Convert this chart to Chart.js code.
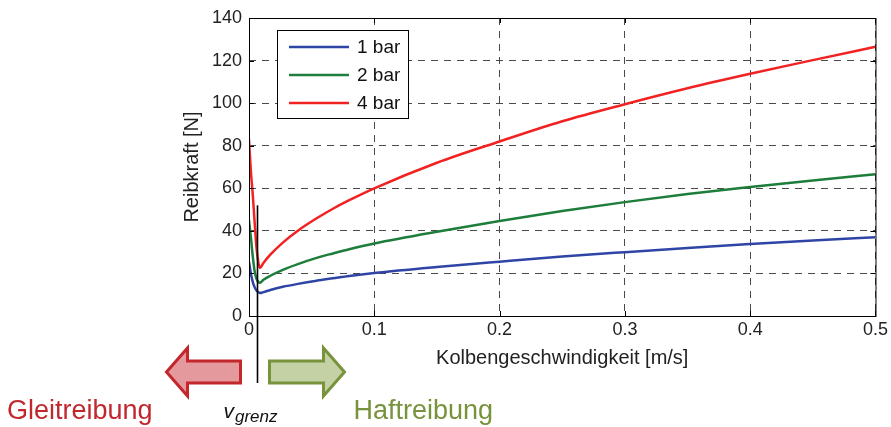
<!DOCTYPE html>
<html>
<head>
<meta charset="utf-8">
<script src="https://cdn.jsdelivr.net/npm/chart.js@4"></script>
<style>
  html, body { margin: 0; padding: 0; background: #fff; }
  #wrap { width: 891px; height: 427px; }
</style>
</head>
<body>
<div id="wrap"><canvas id="chart"></canvas></div>
<script>
// Kolbengeschwindigkeit [m/s]
const speeds = [0, 0.0015, 0.003, 0.0045, 0.006, 0.0075, 0.0087, 0.0115, 0.017, 0.027, 0.039, 0.054, 0.067, 0.08, 0.1, 0.15, 0.2, 0.25, 0.3, 0.35, 0.4, 0.45, 0.5];
// Reibkraft [N]
const force1bar = [25.5, 20, 16, 13.5, 12, 11.2, 10.8, 11.2, 12.2, 13.7, 15.1, 16.6, 17.7, 18.8, 20.2, 23, 25.5, 27.9, 30, 32, 33.8, 35.5, 37];
const force2bar = [45, 37, 28, 21, 17.5, 16, 15.6, 17, 18.9, 21.7, 24.4, 27.3, 29.4, 31.4, 34.1, 39.6, 44.6, 49.3, 53.5, 57.3, 60.6, 63.7, 66.6];
const force4bar = [83, 68, 57, 44, 32, 25, 22.6, 24.9, 28.8, 34.5, 40.1, 45.9, 50.4, 54.4, 60, 72, 82, 91.5, 99.5, 107, 113.8, 120.2, 126.5];
const seriesLabels = ['1 bar', '2 bar', '4 bar'];
const xTicks = [0, 0.1, 0.2, 0.3, 0.4, 0.5];
const yTicks = [0, 20, 40, 60, 80, 100, 120, 140];
const vGrenz = 0.0064;
const vGrenzTop = 52;

const colors = ['#2f45a6', '#1d7d3b', '#f22222'];
const FONT = '"Liberation Sans", Arial, Helvetica, sans-serif';

const toPoints = ys => speeds.map((x, i) => ({ x: x, y: ys[i] }));

const annotations = {
    id: 'annotations',
    afterDraw(chart) {
        const { ctx, chartArea: a, scales: { x, y } } = chart;
        ctx.save();

        // frame + inward tick marks (matlab style)
        ctx.strokeStyle = '#000';
        ctx.lineWidth = 1;
        ctx.strokeRect(a.left + 0.5, a.top + 0.5, a.right - a.left, a.bottom - a.top);
        ctx.beginPath();
        xTicks.forEach(v => {
            const px = Math.round(x.getPixelForValue(v)) + 0.5;
            ctx.moveTo(px, a.bottom); ctx.lineTo(px, a.bottom - 5);
            ctx.moveTo(px, a.top); ctx.lineTo(px, a.top + 5);
        });
        yTicks.forEach(v => {
            const py = Math.round(y.getPixelForValue(v)) + 0.5;
            ctx.moveTo(a.left, py); ctx.lineTo(a.left + 5, py);
            ctx.moveTo(a.right, py); ctx.lineTo(a.right - 5, py);
        });
        ctx.stroke();

        // legend box
        const lx = a.left + 28, ly = a.top + 12;
        ctx.fillStyle = '#fff';
        ctx.fillRect(lx, ly, 131, 88);
        ctx.strokeRect(lx + 0.5, ly + 0.5, 131, 88);
        ctx.font = '19px ' + FONT;
        ctx.textBaseline = 'middle';
        ctx.textAlign = 'left';
        chart.data.datasets.forEach((ds, i) => {
            const yy = ly + 17 + i * 28;
            ctx.strokeStyle = ds.borderColor;
            ctx.lineWidth = 2.5;
            ctx.beginPath();
            ctx.moveTo(lx + 12, yy); ctx.lineTo(lx + 72, yy);
            ctx.stroke();
            ctx.fillStyle = '#111';
            ctx.fillText(ds.label, lx + 80, yy + 1);
        });

        // v_grenz line
        const gx = Math.round(x.getPixelForValue(vGrenz)) + 0.5;
        ctx.strokeStyle = '#000';
        ctx.lineWidth = 1.6;
        ctx.beginPath();
        ctx.moveTo(gx, y.getPixelForValue(vGrenzTop));
        ctx.lineTo(gx, a.bottom + 67);
        ctx.stroke();

        // arrows
        const cy = a.bottom + 56;
        function arrow(tip, base, end, fill, stroke) {
            ctx.beginPath();
            ctx.moveTo(tip, cy);
            ctx.lineTo(base, cy - 24);
            ctx.lineTo(base, cy - 11);
            ctx.lineTo(end, cy - 11);
            ctx.lineTo(end, cy + 11);
            ctx.lineTo(base, cy + 11);
            ctx.lineTo(base, cy + 24);
            ctx.closePath();
            ctx.fillStyle = fill;
            ctx.fill();
            ctx.lineWidth = 3;
            ctx.lineJoin = 'miter';
            ctx.strokeStyle = stroke;
            ctx.stroke();
        }
        arrow(gx - 91, gx - 70, gx - 17, '#e4999d', '#c1272d');
        arrow(gx + 87, gx + 66, gx + 12, '#c3d1a4', '#77933c');

        // texts below
        ctx.textBaseline = 'middle';
        ctx.font = '27px ' + FONT;
        ctx.fillStyle = '#c1272d';
        ctx.textAlign = 'left';
        ctx.fillText('Gleitreibung', 7, a.bottom + 96);
        ctx.fillStyle = '#77933c';
        ctx.fillText('Haftreibung', gx + 96, a.bottom + 96);

        ctx.fillStyle = '#111';
        ctx.textBaseline = 'alphabetic';
        ctx.font = 'italic 21px ' + FONT;
        ctx.fillText('v', gx - 34, a.bottom + 102);
        const vw = ctx.measureText('v').width;
        ctx.font = 'italic 17px ' + FONT;
        ctx.fillText('grenz', gx - 34 + vw + 1, a.bottom + 106);

        ctx.restore();
    }
};

new Chart(document.getElementById('chart').getContext('2d'), {
    type: 'line',
    data: {
        datasets: [force1bar, force2bar, force4bar].map((ys, i) => ({
            label: seriesLabels[i],
            data: toPoints(ys),
            borderColor: colors[i],
            backgroundColor: colors[i],
            borderWidth: 2.5,
            pointRadius: 0,
            cubicInterpolationMode: 'monotone',
            fill: false
        }))
    },
    options: {
        responsive: true,
        maintainAspectRatio: false,
        animation: false,
        layout: { padding: { left: 180, right: 13, top: 18, bottom: 55 } },
        plugins: { legend: { display: false }, tooltip: { enabled: false } },
        scales: {
            x: {
                type: 'linear',
                min: 0,
                max: 0.5,
                afterFit: s => { s.height = 56; },
                afterBuildTicks: s => { s.ticks = xTicks.map(v => ({ value: v })); },
                ticks: {
                    color: '#222',
                    font: { family: FONT, size: 18 },
                    padding: 3,
                    maxRotation: 0,
                    callback: v => String(v)
                },
                grid: { color: '#4a4a4a', lineWidth: 1, drawTicks: false, borderDash: [7, 6] },
                border: { display: false, dash: [7, 6] },
                title: {
                    display: true,
                    text: 'Kolbengeschwindigkeit [m/s]',
                    color: '#222',
                    font: { family: FONT, size: 20 },
                    padding: { top: 0, bottom: 2 }
                }
            },
            y: {
                min: 0,
                max: 140,
                afterFit: s => { s.width = 69; },
                afterBuildTicks: s => { s.ticks = yTicks.map(v => ({ value: v })); },
                ticks: {
                    color: '#222',
                    font: { family: FONT, size: 18 },
                    padding: 7
                },
                grid: { color: '#4a4a4a', lineWidth: 1, drawTicks: false, borderDash: [7, 6] },
                border: { display: false, dash: [7, 6] },
                title: {
                    display: true,
                    text: 'Reibkraft [N]',
                    color: '#222',
                    font: { family: FONT, size: 20 },
                    padding: { top: 0, bottom: 0 }
                }
            }
        }
    },
    plugins: [annotations]
});
</script>
</body>
</html>
